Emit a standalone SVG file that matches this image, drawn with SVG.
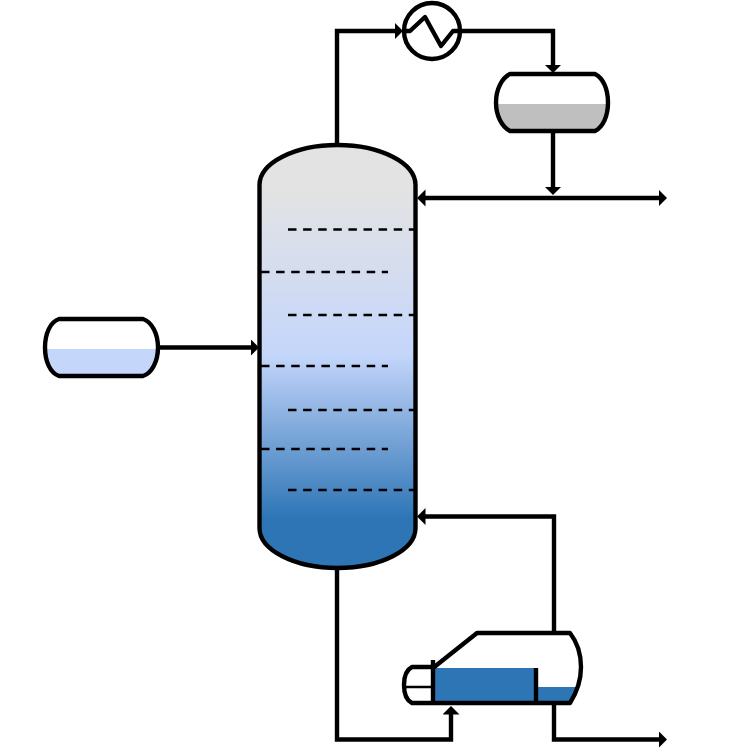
<svg xmlns="http://www.w3.org/2000/svg" width="749" height="749" viewBox="0 0 749 749">
<style>
.o{fill:none;stroke:#000;stroke-width:4.400;stroke-linejoin:round}
.c{fill:none;stroke:#000;stroke-width:4.400;stroke-linejoin:miter}
.d{fill:none;stroke:#000;stroke-width:2.600;stroke-dasharray:8.500 6.600}
</style>
<defs>
<linearGradient id="g" gradientUnits="userSpaceOnUse" x1="0" y1="190" x2="0" y2="518">
<stop offset="0" stop-color="#e3e3e3"/>
<stop offset="0.5" stop-color="#c5d6fb"/>
<stop offset="1" stop-color="#2e75b6"/>
</linearGradient>
<marker id="a" markerUnits="userSpaceOnUse" markerWidth="10" markerHeight="18" refX="4.500" refY="8.500" orient="auto-start-reverse">
<path d="M0 0L8.500 8.500L0 17Z" fill="#000"/>
</marker>
</defs>
<rect width="749" height="749" fill="#fff"/>
<g id="connectors">
<path class="c" d="M337 145V31H399" marker-end="url(#a)"/>
<path class="c" d="M461 31H553V69" marker-end="url(#a)"/>
<path class="c" d="M553 131V191" marker-end="url(#a)"/>
<path class="c" d="M421 198H663" marker-start="url(#a)" marker-end="url(#a)"/>
<path class="c" d="M158 347.500H255" marker-end="url(#a)"/>
<path class="c" d="M554 632V516.500H421" marker-end="url(#a)"/>
<path class="c" d="M337 569V739.500H451V710" marker-end="url(#a)"/>
<path class="c" d="M554 703V739.500H663" marker-end="url(#a)"/>
</g>
<g id="column">
<path d="M259.500 185A78 40 0 0 1 415.500 185V528A78 40 0 0 1 259.500 528Z" fill="url(#g)" stroke="#000" stroke-width="4.400"/>
<path class="d" d="M288 229.500H415M261 272H388M288 315H415M261 366H388M288 410H415M261 449H388M288 490H415"/>
</g>
<g id="feed-tank">
<path d="M46 349H157C155.500 362 150 372 143 375H59C52 372 47 362 46 349Z" fill="#c5d6fb"/>
<path class="o" d="M59 319H143C152 322 158 334 158 347.500C158 361 152 373 143 376H59C50 373 45 361 45 347.500C45 334 50 322 59 319Z"/>
</g>
<g id="condenser">
<circle cx="432" cy="31" r="28" fill="#fff" stroke="#000" stroke-width="4.400"/>
<path class="o" d="M404 31H410L425 17L441 46L453 31H461"/>
</g>
<g id="accumulator">
<path d="M497 104H607C606 116 601 126 595 130H510C503 126 498 116 497 104Z" fill="#bfbfbf"/>
<path class="o" d="M510 74H595C603 78 608 89 608 102.500C608 116 603 127 595 131H510C502 127 496 116 496 102.500C496 89 502 78 510 74Z"/>
</g>
<g id="reboiler">
<path d="M434 668H536V687H577C575 693 573 698 570 702H434Z" fill="#2e75b6"/>
<path class="o" d="M433 668L477 633H570C577 642 581 655 581 667C581 680 577 692 570 703H433"/>
<path class="o" d="M433 667H412C406 670 404 678 404 685C404 692 406 700 412 703H433"/>
<path class="c" d="M433 660V703"/>
<path d="M405 687H433" fill="none" stroke="#000" stroke-width="2.500"/>
<path class="c" d="M536 668V703"/>
</g>
</svg>
